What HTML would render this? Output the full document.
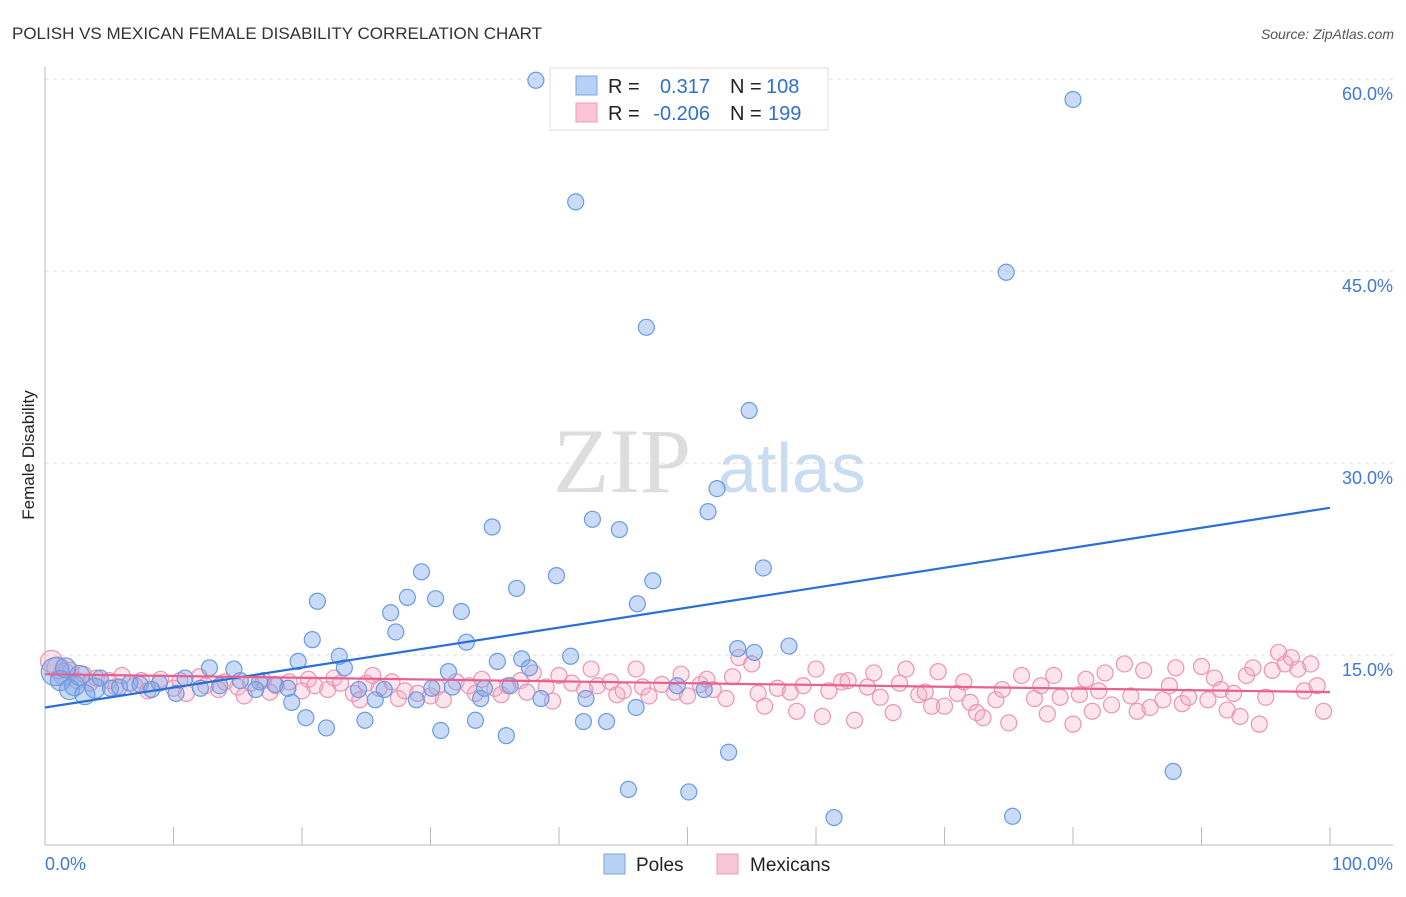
<!DOCTYPE html>
<html><head><meta charset="utf-8"><style>
body{margin:0;background:#fff;font-family:"Liberation Sans",sans-serif;}
svg text{font-family:"Liberation Sans",sans-serif;}
</style></head><body>
<svg id="chart" width="1406" height="892">
<text x="12" y="39" font-size="17" fill="#333">POLISH VS MEXICAN FEMALE DISABILITY CORRELATION CHART</text>
<text x="1394" y="39" font-size="14" fill="#555" font-style="italic" text-anchor="end">Source: ZipAtlas.com</text>
<text transform="translate(34,455) rotate(-90)" font-size="17" fill="#222" text-anchor="middle">Female Disability</text>
<g><text x="553" y="492" font-size="92" fill="#ddd" font-family="Liberation Serif" style="font-family:'Liberation Serif',serif">ZIP</text><text x="718" y="492" font-size="70" fill="#c8dcf2">atlas</text></g>
<g id="grid"></g><g id="axes"></g><g id="pink"></g><g id="blue"></g><g id="trends"></g>
<g>
<rect x="550" y="68" width="278" height="62" fill="#fff" stroke="#ddd"/>
<rect x="576" y="76" width="21" height="19" fill="#b7d0f3" stroke="#7aa5e3"/>
<rect x="576" y="103" width="21" height="19" fill="#f9c6d6" stroke="#ee9bb5"/>
<text x="608" y="93" font-size="20" fill="#222">R =</text><text x="710" y="93" font-size="20" fill="#2f6fd0" text-anchor="end">0.317</text>
<text x="730" y="93" font-size="20" fill="#222">N =</text><text x="766" y="93" font-size="20" fill="#2f6fd0">108</text>
<text x="608" y="120" font-size="20" fill="#222">R =</text><text x="710" y="120" font-size="20" fill="#2f6fd0" text-anchor="end">-0.206</text>
<text x="730" y="120" font-size="20" fill="#222">N =</text><text x="768" y="120" font-size="20" fill="#2f6fd0">199</text>
</g>
<g>
<rect x="604" y="854" width="21" height="20" fill="#b7d0f3" stroke="#7aa5e3"/><text x="636" y="871" font-size="19" fill="#222">Poles</text>
<rect x="717" y="854" width="21" height="20" fill="#f9c6d6" stroke="#ee9bb5"/><text x="750" y="871" font-size="19" fill="#222">Mexicans</text>
</g>
</svg>
<script>
const yTicks=[15,30,45,60];
const yTickLabels=["15.0%","30.0%","45.0%","60.0%"];
const blueX=[38.2,80,41.3,74.8,46.8,54.8,52.3,51.6,42.6,44.7,34.8,55.9,47.3,39.8,29.3,36.7,46.1,28.2,30.4,21.2,26.9,32.4,27.3,20.8,32.8,53.9,57.9,55.2,22.9,40.9,19.7,35.2,37.1,23.3,12.8,14.7,31.4,37.7,87.8,53.2,45.4,50.1,61.4,75.3,35.9,30.8,21.9,20.3,24.9,33.5,41.9,43.7,46,19.2,25.7,28.9,33.9,38.6,42.1,24.4,26.4,30.1,31.7,34.2,36.2,49.2,51.3,0.8,1.2,2.3,3.9,5.1,5.8,6.6,7.4,8.9,10.9,12.1,13.6,15.2,16.7,17.9,18.9,4.3,2.7,1.6,1.9,3.1,8.3,10.2,16.4];
const blueY=[59.9,58.4,50.4,44.9,40.6,34.1,28,26.2,25.6,24.8,25,21.8,20.8,21.2,21.5,20.2,19,19.5,19.4,19.2,18.3,18.4,16.8,16.2,16,15.5,15.7,15.2,14.9,14.9,14.5,14.5,14.7,14,14,13.9,13.7,14,5.9,7.4,4.5,4.3,2.3,2.4,8.7,9.1,9.3,10.1,9.9,9.9,9.8,9.8,10.9,11.3,11.5,11.5,11.6,11.6,11.6,12.3,12.3,12.4,12.5,12.4,12.6,12.6,12.3,13.7,13,12.6,12.4,12.4,12.5,12.8,12.7,12.8,13.2,12.4,12.6,13,12.9,12.7,12.4,13.2,13.4,14,12.3,11.9,12.3,12,12.3];
const pinkX=[0.5,1,1.5,2,2.5,3,3.5,4,5,5.5,6,7,7.5,8,9,10,10.5,11,12,12.5,13.5,14,15,15.5,16,17,17.5,18,19,20,20.5,21,22,22.5,23,24,24.5,25,25.5,26,27,27.5,28,29,30,30.5,31,32,33,33.5,34,35,35.5,36,37,37.5,38,39,39.5,40,41,42,42.5,43,44,44.5,45,46,46.5,47,48,49,49.5,50,51,51.5,52,53,53.5,54,55,55.5,56,57,58,58.5,59,60,60.5,61,62,62.5,63,64,64.5,65,66,66.5,67,68,68.5,69,69.5,70,71,71.5,72,72.5,73,74,74.5,75,76,77,77.5,78,78.5,79,80,80.5,81,81.5,82,82.5,83,84,84.5,85,85.5,86,87,87.5,88,88.5,89,90,90.5,91,91.5,92,92.5,93,93.5,94,94.5,95,95.5,96,96.5,97,97.5,98,98.5,99,99.5];
const pinkY=[14.5,14,13.5,13.8,13,13.5,12.8,13.2,13,12.5,13.4,12.6,13,12.2,13.1,12.4,13,12,13.3,12.6,12.3,12.9,12.5,11.8,12.8,13,12.1,12.6,12.9,12.2,13.1,12.6,12.3,13.2,12.8,12,11.5,12.8,13.4,12.4,12.9,11.6,12.2,12,11.8,12.5,11.5,12.9,12.6,12,13.1,12.4,11.9,12.6,13,12.1,13.6,12.5,11.4,13.4,12.8,12.3,13.9,12.6,12.9,11.9,12.2,13.9,12.5,11.8,12.7,12.1,13.5,11.8,12.7,13.1,12.3,11.6,13.3,14.8,14.3,12,11,12.4,12.1,10.6,12.6,13.9,10.2,12.2,12.9,13,9.9,12.5,13.6,11.7,10.5,12.8,13.9,11.9,12.1,11,13.7,11,12,12.9,11.3,10.5,10.1,11.5,12.3,9.7,13.4,11.6,12.6,10.4,13.4,11.7,9.6,11.9,13.1,10.6,12.2,13.6,11.1,14.3,11.8,10.6,13.8,10.9,11.5,12.6,14,11.2,11.7,14.1,11.5,13.2,12.3,10.7,12,10.2,13.4,14,9.6,11.7,13.8,15.2,14.3,14.8,13.9,12.2,14.3,12.6,10.6];
const blueTrend=[10.9,26.5];
const pinkTrend=[13.5,12.1];
const NS="http://www.w3.org/2000/svg";
const X0=45,X1=1330;
function sx(v){return X0+(X1-X0)*v/100;}
function sy(v){return 655-(v-15)*12.8;}
function mk(tag,attrs,parent){const e=document.createElementNS(NS,tag);for(const k in attrs)e.setAttribute(k,attrs[k]);document.getElementById(parent).appendChild(e);return e;}
yTicks.forEach((t,i)=>{
 const l=mk('line',{x1:45,x2:1393,y1:sy(t),y2:sy(t),stroke:'#ddd','stroke-dasharray':'4,4'},'grid');
 
 
 const tx=mk('text',{x:1393,y:sy(t)+21,'font-size':18,fill:'#3f78d6','text-anchor':'end'},'grid');
 tx.textContent=yTickLabels[i];
 
 
});
let a=mk('line',{x1:45,x2:45,y1:67,y2:845,stroke:'#bbb'},'axes');


a=mk('line',{x1:45,x2:1393,y1:845,y2:845,stroke:'#bbb'},'axes');


for(let i=0;i<=10;i++){const t=mk('line',{x1:sx(i*10),x2:sx(i*10),y1:827,y2:845,stroke:'#bbb'},'axes');
 
 }
let t1=mk('text',{x:45,y:870,'font-size':18,fill:'#3f78d6'},'axes');t1.textContent='0.0%';


t1=mk('text',{x:1393,y:870,'font-size':18,fill:'#3f78d6','text-anchor':'end'},'axes');t1.textContent='100.0%';


pinkX.forEach((x,i)=>{const c=mk('circle',{cx:sx(x),cy:sy(pinkY[i]),r:i<3?11:8,fill:'rgba(246,170,196,0.3)',stroke:'#ec94b2','stroke-width':1.2},'pink');
 
 });
blueX.forEach((x,i)=>{const c=mk('circle',{cx:sx(x),cy:sy(blueY[i]),r:i==67?14:(x<4?10:8),fill:'rgba(120,165,235,0.4)',stroke:'#6a9be0','stroke-width':1.2},'blue');
 
 });
let tl=mk('line',{x1:sx(0),x2:sx(100),y1:sy(blueTrend[0]),y2:sy(blueTrend[1]),stroke:'#2a6fd6','stroke-width':2.2},'trends');


tl=mk('line',{x1:sx(0),x2:sx(100),y1:sy(pinkTrend[0]),y2:sy(pinkTrend[1]),stroke:'#e8608e','stroke-width':2.2},'trends');


</script>
</body></html>
